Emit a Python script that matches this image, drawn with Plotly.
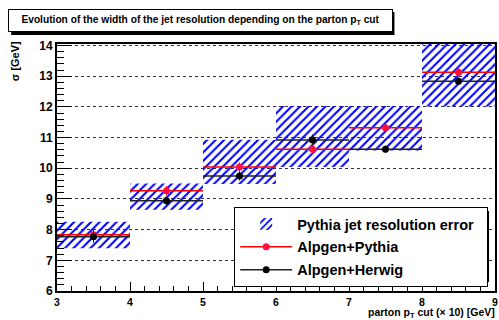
import plotly.graph_objects as go

# parton pT cut bins (x 10 GeV)
bin_centers = [3.5, 4.5, 5.5, 6.5, 7.5, 8.5]
bin_half_width = [0.5, 0.5, 0.5, 0.5, 0.5, 0.5]

# Pythia jet resolution error band (low / high edge, GeV)
band_low = [7.39, 8.65, 9.49, 10.04, 10.58, 12.01]
band_high = [8.26, 9.50, 10.93, 12.03, 12.03, 14.05]

# resolution width sigma (GeV) and its uncertainty
pythia_sigma = [7.83, 9.27, 10.04, 10.62, 11.32, 13.13]
pythia_err = [0.15, 0.15, 0.15, 0.15, 0.15, 0.12]
herwig_sigma = [7.77, 8.94, 9.75, 10.92, 10.62, 12.84]
herwig_err = [0.2, 0.15, 0.15, 0.18, 0.12, 0.12]

x_ticks = [3, 4, 5, 6, 7, 8, 9]
y_ticks = [6, 7, 8, 9, 10, 11, 12, 13, 14]

FONT = "Liberation Sans"
RED_LINE, RED_MARK = "#ff0000", "#ff1040"
BLK_LINE = "#222222"

# plot frame in pixels, used to place boxes in paper coordinates
PX_L, PX_R, PX_T, PX_B = 57, 497, 44, 291


def px(xp):
    return (xp - PX_L) / (PX_R - PX_L)


def py(yp):
    return (PX_B - yp) / (PX_B - PX_T)


fig = go.Figure()

fig.add_trace(go.Bar(
    x=bin_centers,
    base=band_low,
    y=[h - l for h, l in zip(band_high, band_low)],
    width=1.0,
    name="<b>Pythia jet resolution error</b>&nbsp;&nbsp;",
    legendgroup="a",
    marker=dict(
        color="rgba(255,255,255,0)",
        line=dict(width=0),
        pattern=dict(shape="/", fgcolor="#0000ff", fgopacity=1,
                     bgcolor="rgba(255,255,255,0)", fillmode="replace",
                     size=6, solidity=0.35),
    ),
))

fig.add_trace(go.Scatter(
    x=bin_centers, y=pythia_sigma, mode="markers",
    showlegend=False,
    marker=dict(color=RED_MARK, size=7),
    error_x=dict(type="data", array=bin_half_width, color=RED_LINE, thickness=1.5, width=0),
    error_y=dict(type="data", array=pythia_err, color=RED_LINE, thickness=1, width=0),
))

fig.add_trace(go.Scatter(
    x=bin_centers, y=herwig_sigma, mode="markers",
    showlegend=False,
    marker=dict(color="black", size=7),
    error_x=dict(type="data", array=bin_half_width, color=BLK_LINE, thickness=1.5, width=0),
    error_y=dict(type="data", array=herwig_err, color=BLK_LINE, thickness=1, width=0),
))

# legend entries for the two generators (line + marker sample)
fig.add_trace(go.Scatter(
    x=[None], y=[None], mode="lines+markers", name="<b>Alpgen+Pythia</b>",
    legendgroup="b", line=dict(color=RED_LINE, width=1.5),
    marker=dict(color=RED_MARK, size=7),
))
fig.add_trace(go.Scatter(
    x=[None], y=[None], mode="lines+markers", name="<b>Alpgen+Herwig</b>",
    legendgroup="c", line=dict(color=BLK_LINE, width=1.5),
    marker=dict(color="black", size=7),
))

fig.update_xaxes(
    range=[3, 9], tickvals=x_ticks, ticktext=[f"<b>{v}</b>" for v in x_ticks],
    ticks="inside", ticklen=9, tickwidth=1, tickcolor="black",
    minor=dict(ticks="inside", dtick=0.2, ticklen=5, tickcolor="black", showgrid=False),
    showgrid=False, zeroline=False,
    showline=True, linecolor="black", linewidth=2, mirror=True,
    tickfont=dict(family=FONT, size=10.5, color="black"),
)
fig.update_yaxes(
    range=[6, 14.05], tickvals=y_ticks, ticktext=[f"<b>{v}</b>" for v in y_ticks],
    ticks="inside", ticklen=14, tickwidth=1, tickcolor="black",
    minor=dict(ticks="inside", dtick=0.2, ticklen=7, tickcolor="black", showgrid=False),
    showgrid=True, gridcolor="#333333", griddash="dot", gridwidth=1,
    zeroline=False,
    showline=True, linecolor="black", linewidth=2, mirror=True,
    tickfont=dict(family=FONT, size=12, color="black"),
)

fig.update_layout(
    width=499, height=320,
    margin=dict(l=PX_L, r=499 - PX_R, t=PX_T, b=320 - PX_B),
    paper_bgcolor="white", plot_bgcolor="white",
    font=dict(family=FONT, color="black"),
    barmode="overlay",
    showlegend=True,
    legend=dict(
        x=px(235), y=py(207), xanchor="left", yanchor="top",
        bgcolor="white", bordercolor="black", borderwidth=1,
        font=dict(family=FONT, size=14.5, color="black"),
        tracegroupgap=1, itemwidth=52,
    ),
    shapes=[
        # drop shadow of the title box
        dict(type="rect", xref="paper", yref="paper",
             x0=px(11), x1=px(396), y0=py(35), y1=py(12),
             fillcolor="black", line=dict(width=0), layer="below"),
        # drop shadow of the legend box
        dict(type="rect", xref="paper", yref="paper",
             x0=px(236), x1=px(491), y0=py(282), y1=py(211),
             fillcolor="black", line=dict(width=0), layer="above"),
    ],
    annotations=[
        dict(text="<b>Evolution of the width of the jet resolution depending on the parton p<sub>T</sub> cut</b>",
             xref="paper", yref="paper", x=px(8), y=py(9),
             xanchor="left", yanchor="top", showarrow=False,
             font=dict(family=FONT, size=10.2, color="black"),
             bgcolor="white", bordercolor="black", borderwidth=1, borderpad=4,
             width=375, align="center"),
        dict(text="<b>σ [GeV]</b>", textangle=-90,
             xref="paper", yref="paper", x=px(15), y=py(39),
             xanchor="center", yanchor="top", showarrow=False,
             font=dict(family=FONT, size=11, color="black")),
        dict(text="<b>parton p<sub>T</sub> cut (× 10) [GeV]</b>",
             xref="paper", yref="paper", x=px(498), y=py(321),
             xanchor="right", yanchor="bottom", showarrow=False, borderpad=0,
             font=dict(family=FONT, size=10.5, color="black")),
    ],
)

fig.write_html("out.html")
